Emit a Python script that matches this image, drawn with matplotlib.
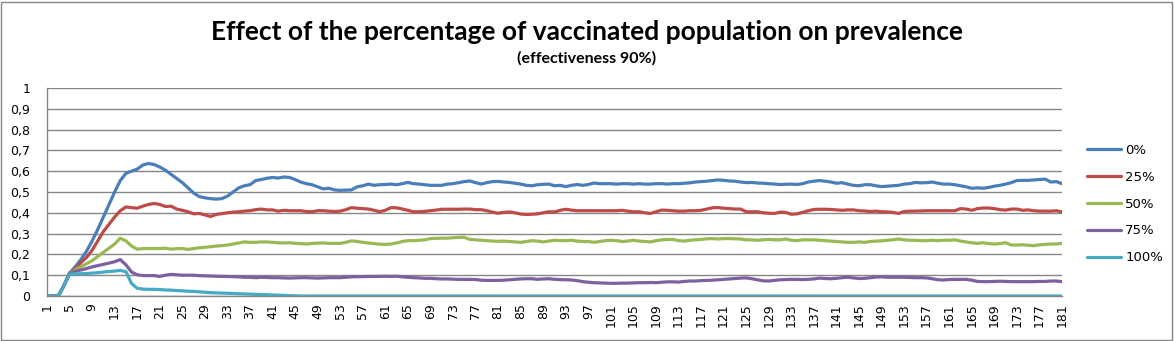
import numpy as np
import matplotlib.pyplot as plt
from matplotlib.patches import Rectangle

days = np.arange(1, 182)

prev_0 = [
    0, 0, 0, 0.05, 0.11, 0.14, 0.175, 0.215, 0.265, 0.32,
    0.38, 0.44, 0.5, 0.555, 0.59, 0.6, 0.61, 0.63, 0.637, 0.632,
    0.62, 0.605, 0.585, 0.565, 0.545, 0.52, 0.495, 0.478, 0.472, 0.468,
    0.466, 0.468, 0.48, 0.5, 0.52, 0.53, 0.535, 0.555, 0.56, 0.566,
    0.57, 0.567, 0.572, 0.57, 0.56, 0.548, 0.54, 0.535, 0.525, 0.515,
    0.518, 0.51, 0.508, 0.509, 0.51, 0.525, 0.53, 0.538, 0.532, 0.535,
    0.536, 0.538, 0.535, 0.54, 0.546, 0.54, 0.538, 0.535, 0.532, 0.532,
    0.532, 0.538, 0.54, 0.545, 0.55, 0.553, 0.545, 0.538, 0.545, 0.55,
    0.551, 0.548, 0.546, 0.542, 0.538, 0.532, 0.53, 0.535, 0.537, 0.538,
    0.53, 0.532, 0.526, 0.532, 0.536, 0.532, 0.536, 0.543, 0.54, 0.54,
    0.54, 0.538, 0.54, 0.54, 0.538, 0.54, 0.538, 0.538, 0.54, 0.54,
    0.538, 0.54, 0.54, 0.542, 0.544, 0.548, 0.55, 0.552, 0.555, 0.558,
    0.556, 0.553, 0.552, 0.548, 0.545, 0.546, 0.543, 0.542, 0.54, 0.538,
    0.536, 0.537, 0.538, 0.536, 0.54, 0.548, 0.552, 0.555, 0.552, 0.548,
    0.542, 0.545, 0.538, 0.532, 0.53, 0.535, 0.535, 0.53, 0.526, 0.528,
    0.53, 0.532, 0.538, 0.54, 0.546, 0.544, 0.545, 0.548, 0.542, 0.538,
    0.538, 0.535, 0.53, 0.525, 0.518, 0.52, 0.518, 0.522, 0.528, 0.532,
    0.538, 0.545, 0.555, 0.556, 0.556, 0.558, 0.56, 0.562, 0.548, 0.55,
    0.54,
]

prev_25 = [
    0, 0, 0, 0.05, 0.11, 0.13, 0.16, 0.185, 0.22, 0.265,
    0.31, 0.345, 0.38, 0.41, 0.428, 0.425, 0.422, 0.432, 0.44, 0.445,
    0.44, 0.43, 0.432, 0.418, 0.412, 0.405, 0.395, 0.397, 0.39, 0.382,
    0.392, 0.396, 0.4, 0.403, 0.405, 0.408, 0.41, 0.415, 0.418, 0.414,
    0.414, 0.408, 0.412, 0.41, 0.41, 0.41, 0.406, 0.405, 0.41, 0.41,
    0.408, 0.406, 0.408, 0.415, 0.425, 0.422, 0.42, 0.418, 0.412, 0.405,
    0.412, 0.425, 0.424, 0.418, 0.412, 0.405, 0.405, 0.407, 0.41, 0.413,
    0.417, 0.417, 0.417, 0.417, 0.418, 0.418, 0.415, 0.415, 0.41, 0.403,
    0.398, 0.402, 0.404, 0.4, 0.394, 0.392, 0.393, 0.395, 0.4, 0.405,
    0.404, 0.412, 0.417, 0.413, 0.41, 0.41, 0.41, 0.41, 0.41, 0.41,
    0.41, 0.41, 0.412, 0.408, 0.405, 0.405, 0.4, 0.397, 0.405, 0.413,
    0.412, 0.41, 0.408, 0.408, 0.41, 0.41, 0.412, 0.418, 0.424, 0.425,
    0.422, 0.42, 0.418, 0.418, 0.405, 0.405, 0.405, 0.4, 0.398, 0.397,
    0.403, 0.402, 0.393, 0.395, 0.402, 0.41, 0.416, 0.417, 0.417, 0.416,
    0.414, 0.412, 0.414, 0.414, 0.41, 0.409, 0.406, 0.408, 0.405, 0.404,
    0.402, 0.397, 0.406, 0.408, 0.408, 0.409, 0.41, 0.41, 0.41, 0.41,
    0.41, 0.41, 0.42, 0.418, 0.412, 0.42, 0.423, 0.423, 0.42, 0.415,
    0.413, 0.418, 0.418, 0.412, 0.414, 0.41, 0.408, 0.408, 0.408, 0.41,
    0.404,
]

prev_50 = [
    0, 0, 0, 0.05, 0.11, 0.125, 0.14, 0.155, 0.17, 0.19,
    0.21, 0.23, 0.25, 0.278, 0.265, 0.24, 0.225, 0.228, 0.228, 0.228,
    0.228, 0.23, 0.225, 0.228, 0.228, 0.224, 0.228, 0.232, 0.234, 0.237,
    0.24, 0.242, 0.245, 0.25, 0.255, 0.26, 0.258, 0.258, 0.26, 0.26,
    0.258, 0.256, 0.255, 0.256, 0.253, 0.252, 0.25, 0.253, 0.254, 0.255,
    0.253, 0.253, 0.253, 0.258, 0.265, 0.262, 0.258, 0.255, 0.252, 0.249,
    0.248, 0.25, 0.255, 0.262, 0.266, 0.266, 0.268, 0.27, 0.276, 0.277,
    0.278, 0.278, 0.28, 0.282, 0.282, 0.272, 0.27, 0.268, 0.266, 0.264,
    0.263, 0.264, 0.262, 0.26, 0.258, 0.262, 0.266, 0.264, 0.26, 0.264,
    0.268, 0.266, 0.266, 0.268, 0.264, 0.262, 0.262, 0.258, 0.262, 0.266,
    0.268, 0.266, 0.262, 0.264, 0.268, 0.264, 0.262, 0.26, 0.266, 0.27,
    0.272, 0.272, 0.266, 0.264, 0.268, 0.27, 0.272, 0.275, 0.276, 0.274,
    0.276, 0.276, 0.275, 0.274, 0.27, 0.27, 0.268, 0.27, 0.272, 0.27,
    0.27, 0.274, 0.268, 0.266, 0.27, 0.27, 0.27, 0.268, 0.266, 0.264,
    0.262, 0.26, 0.258, 0.258, 0.26, 0.258, 0.262, 0.264, 0.265, 0.268,
    0.27, 0.274, 0.27, 0.268, 0.268, 0.266, 0.266, 0.268, 0.266, 0.268,
    0.268, 0.27, 0.264, 0.26, 0.256, 0.253, 0.256, 0.252, 0.25, 0.252,
    0.256, 0.245, 0.245, 0.246, 0.244, 0.242, 0.246, 0.248, 0.25, 0.25,
    0.253,
]

prev_75 = [
    0, 0, 0, 0.05, 0.11, 0.118, 0.125, 0.132, 0.14, 0.146,
    0.152, 0.158, 0.165, 0.175, 0.15, 0.115, 0.102, 0.098, 0.098, 0.098,
    0.094, 0.1, 0.104, 0.102, 0.1, 0.1, 0.1, 0.098, 0.097, 0.096,
    0.095, 0.094, 0.094, 0.093, 0.092, 0.09, 0.09, 0.088, 0.09, 0.089,
    0.088, 0.088, 0.087, 0.086, 0.087, 0.088, 0.088, 0.087, 0.086, 0.087,
    0.088, 0.088, 0.088, 0.09, 0.092, 0.093, 0.093, 0.094, 0.094, 0.094,
    0.095, 0.094, 0.095, 0.092, 0.09, 0.088, 0.087, 0.085, 0.085, 0.083,
    0.082, 0.082, 0.081, 0.08, 0.08, 0.08, 0.079, 0.076, 0.075, 0.075,
    0.075, 0.076, 0.078, 0.08, 0.082, 0.083, 0.083, 0.08, 0.082, 0.083,
    0.08, 0.079, 0.078, 0.077, 0.074, 0.069, 0.066, 0.064, 0.063, 0.062,
    0.061, 0.061, 0.062, 0.062, 0.063, 0.064, 0.064, 0.065, 0.064, 0.066,
    0.068, 0.068, 0.067, 0.07, 0.072, 0.072, 0.074, 0.075, 0.076, 0.078,
    0.08, 0.082, 0.084, 0.086, 0.087, 0.083, 0.078, 0.073, 0.072, 0.075,
    0.078, 0.079, 0.08, 0.08, 0.079, 0.08, 0.082, 0.086, 0.084, 0.083,
    0.085, 0.088, 0.09, 0.087, 0.084, 0.085, 0.088, 0.091, 0.092, 0.09,
    0.09, 0.09, 0.09, 0.089, 0.088, 0.088, 0.087, 0.083, 0.078, 0.077,
    0.079, 0.08, 0.08, 0.08, 0.076, 0.07, 0.069, 0.069, 0.07, 0.071,
    0.07, 0.069, 0.069, 0.069, 0.069, 0.069, 0.07, 0.07, 0.072, 0.072,
    0.069,
]

prev_100 = [
    0, 0, 0, 0.05, 0.105, 0.106, 0.107, 0.108, 0.11, 0.112,
    0.115, 0.118, 0.12, 0.123, 0.117, 0.06, 0.037, 0.033, 0.032, 0.032,
    0.031, 0.029, 0.028, 0.026, 0.025, 0.023, 0.022, 0.02, 0.018, 0.016,
    0.015, 0.014, 0.013, 0.012, 0.011, 0.01, 0.009, 0.008, 0.007, 0.006,
    0.005, 0.004, 0.003, 0.002, 0.001, 0, 0, 0, 0, 0,
    0, 0, 0, 0, 0, 0, 0, 0, 0, 0,
    0, 0, 0, 0, 0, 0, 0, 0, 0, 0,
    0, 0, 0, 0, 0, 0, 0, 0, 0, 0,
    0, 0, 0, 0, 0, 0, 0, 0, 0, 0,
    0, 0, 0, 0, 0, 0, 0, 0, 0, 0,
    0, 0, 0, 0, 0, 0, 0, 0, 0, 0,
    0, 0, 0, 0, 0, 0, 0, 0, 0, 0,
    0, 0, 0, 0, 0, 0, 0, 0, 0, 0,
    0, 0, 0, 0, 0, 0, 0, 0, 0, 0,
    0, 0, 0, 0, 0, 0, 0, 0, 0, 0,
    0, 0, 0, 0, 0, 0, 0, 0, 0, 0,
    0, 0, 0, 0, 0, 0, 0, 0, 0, 0,
    0, 0, 0, 0, 0, 0, 0, 0, 0, 0,
    0,
]

labels = ["0%", "25%", "50%", "75%", "100%"]
colors = ["#4A7EBB", "#BE4B48", "#98B954", "#7D60A0", "#46AAC5"]
series = [prev_0, prev_25, prev_50, prev_75, prev_100]

fig = plt.figure(figsize=(11.74, 3.41), dpi=100)
ax = fig.add_axes([47 / 1174, 1 - 296 / 341, (1062 - 47) / 1174, (296 - 88) / 341])

for vals, lab, col in zip(series, labels, colors):
    ax.plot(days, vals, color=col, lw=2.3, label=lab, solid_capstyle="round")

ax.set_xlim(1, 181)
ax.set_ylim(0, 1)
yt = np.round(np.arange(0, 1.01, 0.1), 1)
ax.set_yticks(yt)
ax.set_yticklabels([("%g" % v).replace(".", ",") for v in yt])
ax.set_xticks(days[::4])
ax.set_xticklabels([str(d) for d in days[::4]], rotation=90)
ax.tick_params(axis="both", labelsize=9, colors="#868686", labelcolor="black", length=0)
ax.tick_params(axis="y", pad=12)
ax.tick_params(axis="x", pad=5)
ax.grid(axis="y", color="#868686", lw=1)
ax.set_axisbelow(True)
for s in ["top", "right"]:
    ax.spines[s].set_visible(False)
for s in ["left", "bottom"]:
    ax.spines[s].set_color("#868686")
    ax.spines[s].set_linewidth(1)

fig.text(0.5, 1 - 32 / 341, "Effect of the percentage of vaccinated population on prevalence",
         ha="center", va="center", fontsize=19, fontweight="bold", family="Lato")
fig.text(587 / 1174, 1 - 58 / 341, "(effectiveness 90%)",
         ha="center", va="center", fontsize=11.5, fontweight="bold", family="Lato")

leg = ax.legend(loc="center left", bbox_to_anchor=(1075 / 1174, 1 - 204 / 341),
                bbox_transform=fig.transFigure, frameon=False, fontsize=9.5,
                handlelength=2.6, labelspacing=1.05, handletextpad=0.3)

fig.patches.append(Rectangle((1 / 1174, 1 / 341), 1 - 3 / 1174, 1 - 3 / 341,
                             transform=fig.transFigure, fill=False,
                             edgecolor="#868686", lw=1))

fig.savefig("out.png", dpi=100)
